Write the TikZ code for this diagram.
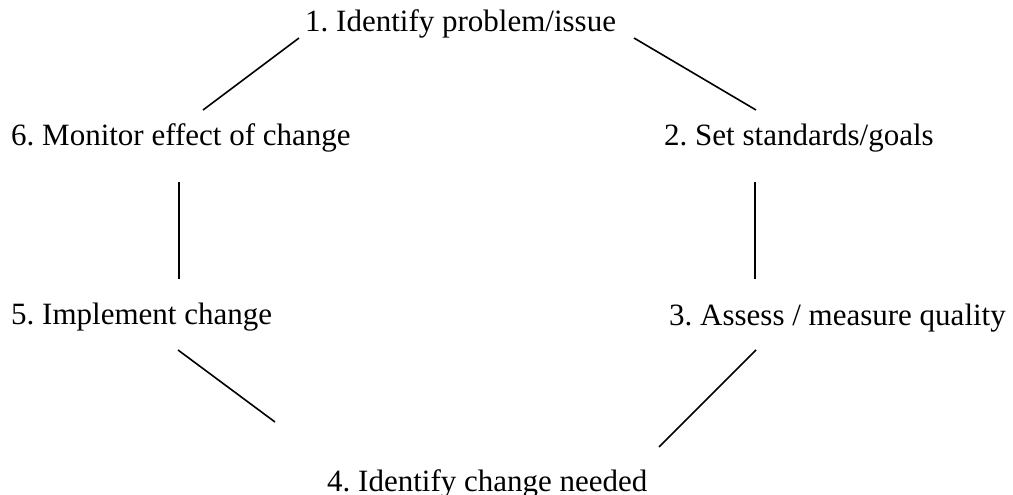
\documentclass[tikz,border=0pt]{standalone}
\usepackage{fontspec}
\setmainfont{Liberation Serif}
\frenchspacing
\begin{document}
\begin{tikzpicture}[x=1pt,y=-1pt,
  lbl/.style={inner sep=0pt,anchor=base west,font=\fontsize{31}{37}\selectfont},
  conn/.style={line width=1.6pt,black}]
\useasboundingbox (0,0) rectangle (1013,495);
\node[lbl] (n1) at (305,32) {1. Identify problem/issue};
\node[lbl] (n2) at (664,146) {2. Set standards/goals};
\node[lbl] (n3) at (669,325) {3. Assess / measure quality};
\node[lbl] (n4) at (327,491) {4. Identify change needed};
\node[lbl] (n5) at (11,324) {5. Implement change};
\node[lbl] (n6) at (11,145) {6. Monitor effect of change};
\coordinate (a1) at (299,38);
\coordinate (a2) at (203,110);
\coordinate (b1) at (634,38);
\coordinate (b2) at (756,110);
\coordinate (c1) at (179,182);
\coordinate (c2) at (179,279);
\coordinate (d1) at (755,182);
\coordinate (d2) at (755,279);
\coordinate (e1) at (178,350);
\coordinate (e2) at (275,422);
\coordinate (f1) at (756,350);
\coordinate (f2) at (659,447);
\draw[conn] (a1) -- (a2);
\draw[conn] (b1) -- (b2);
\draw[conn] (c1) -- (c2);
\draw[conn] (d1) -- (d2);
\draw[conn] (e1) -- (e2);
\draw[conn] (f1) -- (f2);
\end{tikzpicture}
\end{document}
